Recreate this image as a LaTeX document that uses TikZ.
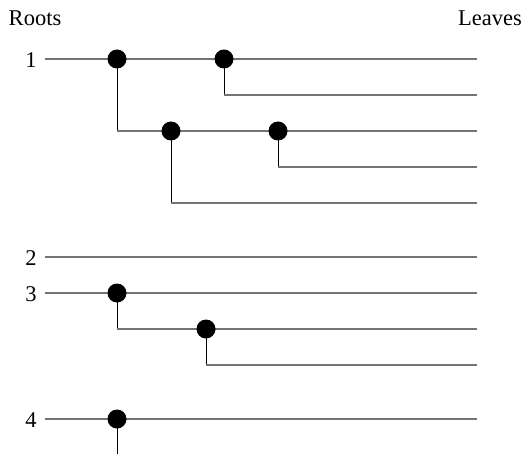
\documentclass[tikz,border=0pt]{standalone}
\usepackage{fontspec}
\setmainfont{Liberation Serif}
\begin{document}
\begin{tikzpicture}[x=1pt,y=-1pt,
  hline/.style={draw=black!55,line width=1.4pt},
  vline/.style={draw=black,line width=1pt},
  dot/.style={circle,fill=black,inner sep=0pt,minimum size=19pt},
  lbl/.style={font=\fontsize{22.5}{26}\selectfont,inner sep=0pt}]
\useasboundingbox (0,0) rectangle (526,454);
\node[lbl] (roots) at (35,18) {Roots};
\node[lbl] (leaves) at (490,18) {Leaves};
\node[lbl] (l1) at (31,60) {1};
\node[lbl] (l2) at (31,258) {2};
\node[lbl] (l3) at (31,294) {3};
\node[lbl] (l4) at (31,420) {4};
% start points
\coordinate (s1) at (45,59);
\coordinate (s2) at (45,257);
\coordinate (s3) at (45,293);
\coordinate (s4) at (45,419);
% ends
\coordinate (e1) at (477,59);
\coordinate (e2) at (477,95);
\coordinate (e3) at (477,131);
\coordinate (e4) at (477,167);
\coordinate (e5) at (477,203);
\coordinate (e6) at (477,257);
\coordinate (e7) at (477,293);
\coordinate (e8) at (477,329);
\coordinate (e9) at (477,365);
\coordinate (e10) at (477,419);
\coordinate (bot) at (117,454);
% corners
\coordinate (c2) at (224,95);
\coordinate (c3) at (117,131);
\coordinate (c4) at (278,167);
\coordinate (c5) at (171,203);
\coordinate (c8) at (117,329);
\coordinate (c9) at (206,365);
% verticals
\draw[vline] (117,59) -- (c3);
\draw[vline] (224,59) -- (c2);
\draw[vline] (278,131) -- (c4);
\draw[vline] (171,131) -- (c5);
\draw[vline] (117,293) -- (c8);
\draw[vline] (206,329) -- (c9);
\draw[vline] (117,419) -- (bot);
% horizontals
\draw[hline] (s1) -- (e1);
\draw[hline] (c2) -- (e2);
\draw[hline] (c3) -- (e3);
\draw[hline] (c4) -- (e4);
\draw[hline] (c5) -- (e5);
\draw[hline] (s2) -- (e6);
\draw[hline] (s3) -- (e7);
\draw[hline] (c8) -- (e8);
\draw[hline] (c9) -- (e9);
\draw[hline] (s4) -- (e10);
% dots
\node[dot] (d1) at (117,59) {};
\node[dot] (d2) at (224,59) {};
\node[dot] (d3) at (171,131) {};
\node[dot] (d4) at (278,131) {};
\node[dot] (d5) at (117,293) {};
\node[dot] (d6) at (206,329) {};
\node[dot] (d7) at (117,419) {};
\end{tikzpicture}
\end{document}
